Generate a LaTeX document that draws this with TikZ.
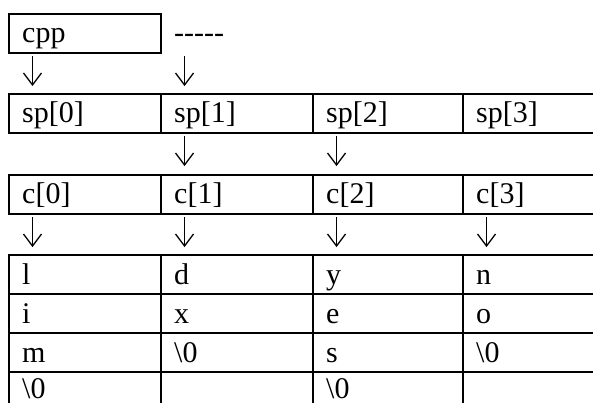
\documentclass[tikz,border=0pt]{standalone}
\usepackage{fontspec}
\setmainfont{Liberation Serif}
\usetikzlibrary{calc}
\tikzset{
  cell/.style={draw, line width=1.6pt, minimum height=39pt, inner sep=0pt, anchor=north west},
  lbl/.style={anchor=base west, inner sep=0pt, font=\fontsize{30pt}{36pt}\selectfont},
  downarrow/.style={line width=1.3pt}
}
\newcommand{\mycell}[6][30]{%
  \node[cell, minimum width=#5] (#2) at (#3,#4) {};
  \node[lbl] (#2t) at ([shift={(14,#1)}]#2.north west) {#6};}
\newcommand{\myarrow}[3]{%
  \coordinate (#1s) at (#2,#3);
  \coordinate (#1e) at (#2,#3+29);
  \draw[downarrow] (#1s) -- (#1e);
  \draw[downarrow] ($(#1e)+(-9,-12)$) -- (#1e) -- ($(#1e)+(9,-12)$);}
\newcommand{\nul}{\textbackslash 0}
\begin{document}
\begin{tikzpicture}[x=1pt,y=-1pt]
\useasboundingbox[fill=white] (0,0) rectangle (593,403);
% pointer box
\mycell{cpp}{8}{13}{152pt}{cpp}
\node[lbl] (dash) at (174,43) {-{}-{}-{}-{}-};
% arrows row 1
\myarrow{a1}{32.5}{56}
\myarrow{a2}{184.5}{56}
% sp row
\mycell{sp0}{8}{93}{152pt}{sp[0]}
\mycell{sp1}{160}{93}{152pt}{sp[1]}
\mycell{sp2}{312}{93}{150pt}{sp[2]}
\mycell{sp3}{462}{93}{152pt}{sp[3]}
% arrows row 2
\myarrow{a3}{184.5}{136}
\myarrow{a4}{336.5}{136}
% c row
\mycell{c0}{8}{174}{152pt}{c[0]}
\mycell{c1}{160}{174}{152pt}{c[1]}
\mycell{c2}{312}{174}{150pt}{c[2]}
\mycell{c3}{462}{174}{152pt}{c[3]}
% arrows row 3
\myarrow{a5}{32.5}{217}
\myarrow{a6}{184.5}{217}
\myarrow{a7}{336.5}{217}
\myarrow{a8}{486.5}{217}
% character arrays
\mycell{s00}{8}{254}{152pt}{l}
\mycell{s01}{8}{293}{152pt}{i}
\mycell{s02}{8}{332}{152pt}{m}
\mycell[27]{s03}{8}{371}{152pt}{\nul}
\mycell{s10}{160}{254}{152pt}{d}
\mycell{s11}{160}{293}{152pt}{x}
\mycell{s12}{160}{332}{152pt}{\nul}
\mycell{s13}{160}{371}{152pt}{}
\mycell{s20}{312}{254}{150pt}{y}
\mycell{s21}{312}{293}{150pt}{e}
\mycell{s22}{312}{332}{150pt}{s}
\mycell[27]{s23}{312}{371}{150pt}{\nul}
\mycell{s30}{462}{254}{152pt}{n}
\mycell{s31}{462}{293}{152pt}{o}
\mycell{s32}{462}{332}{152pt}{\nul}
\mycell{s33}{462}{371}{152pt}{}
\end{tikzpicture}
\end{document}
